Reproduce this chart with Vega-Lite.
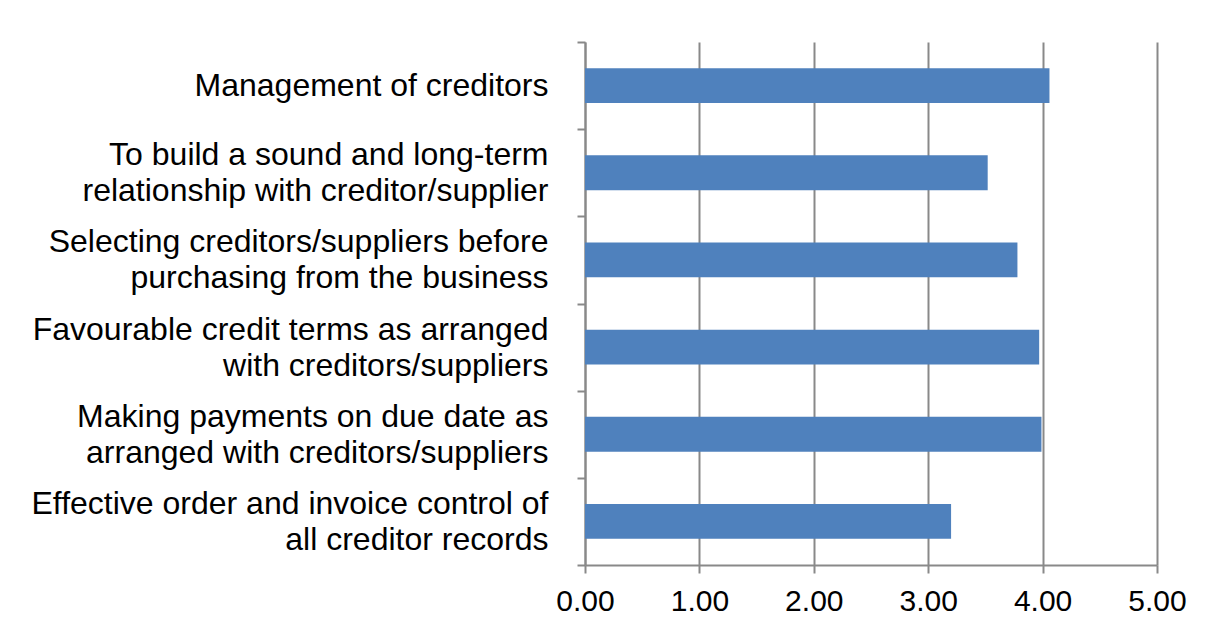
{
  "$schema": "https://vega.github.io/schema/vega-lite/v6.json",
  "autosize": "none",
  "width": 572,
  "height": 523,
  "padding": {"left": 585, "top": 42, "right": 63, "bottom": 73},
  "background": "white",
  "data": {
    "values": [
      {"item": "Management of creditors", "score": 4.06},
      {"item": "To build a sound and long-term\nrelationship with creditor/supplier", "score": 3.52},
      {"item": "Selecting creditors/suppliers before\npurchasing from the business", "score": 3.78},
      {"item": "Favourable credit terms as arranged\nwith creditors/suppliers", "score": 3.97},
      {"item": "Making payments on due date as\narranged with creditors/suppliers", "score": 3.99},
      {"item": "Effective order and invoice control of\nall creditor records", "score": 3.2}
    ]
  },
  "mark": {"type": "bar", "color": "#4F81BD", "height": {"band": 0.4}},
  "encoding": {
    "y": {
      "field": "item",
      "type": "nominal",
      "sort": null,
      "scale": {"paddingInner": 0, "paddingOuter": 0},
      "axis": {
        "title": null,
        "labelExpr": "isValid(datum.value) ? split(datum.value, '\\n') : ''",
        "labelFont": "Liberation Sans",
        "labelFontSize": 32,
        "labelLineHeight": 36,
        "labelColor": "black",
        "labelPadding": 29,
        "labelLimit": 700,
        "labelOffset": {"expr": "isValid(datum.value) && indexof(datum.value, '\\n') >= 0 ? -18 : 0"},
        "tickBand": "extent",
        "tickSize": 8,
        "tickColor": "#898989",
        "tickWidth": 2,
        "domainColor": "#898989",
        "domainWidth": 2,
        "grid": false
      }
    },
    "x": {
      "field": "score",
      "type": "quantitative",
      "scale": {"domain": [0, 5], "nice": false},
      "axis": {
        "title": null,
        "values": [0, 1, 2, 3, 4, 5],
        "format": ".2f",
        "labelFont": "Liberation Sans",
        "labelFontSize": 30,
        "labelColor": "black",
        "labelPadding": 13,
        "labelFlush": false,
        "tickSize": 8,
        "tickColor": "#898989",
        "tickWidth": 2,
        "domainColor": "#898989",
        "domainWidth": 2,
        "grid": true,
        "gridColor": "#898989",
        "gridWidth": 2,
        "gridOpacity": 1
      }
    }
  },
  "config": {"view": {"stroke": null}}
}
